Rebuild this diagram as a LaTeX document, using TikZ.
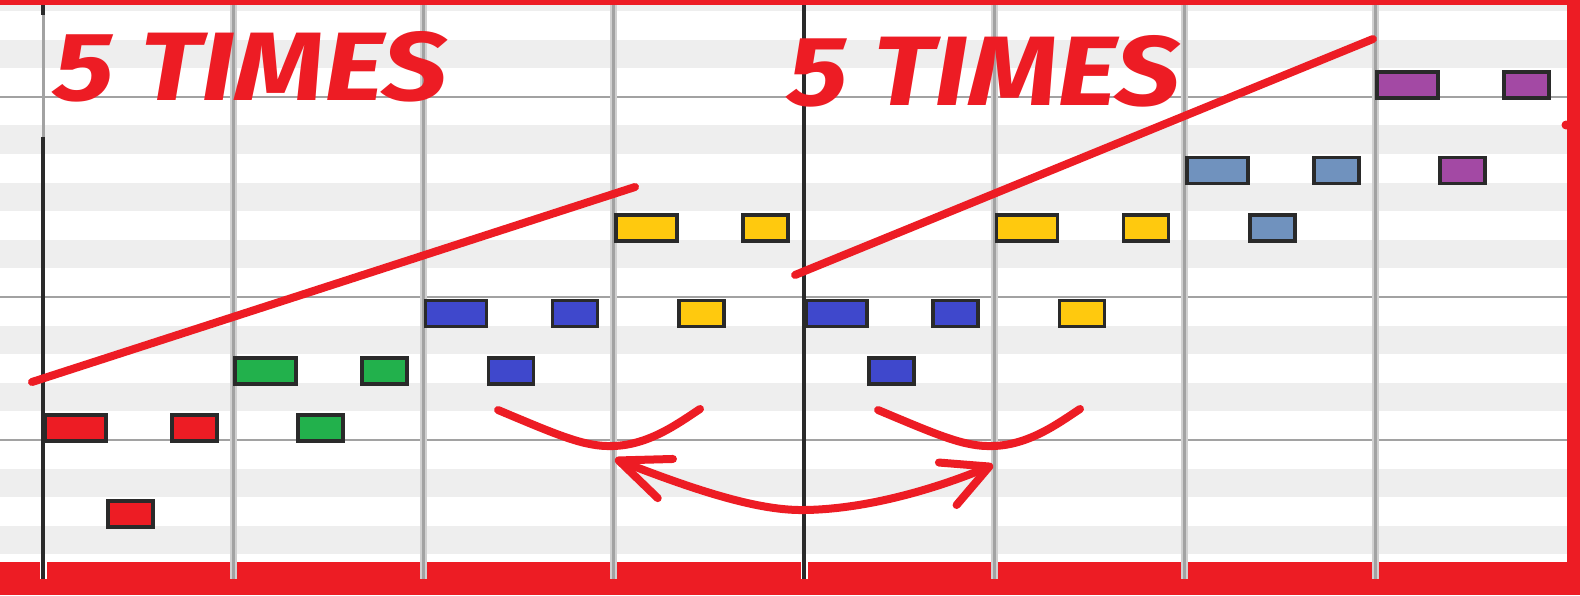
\documentclass[tikz,border=0pt]{standalone}
\usepackage{fontspec}
\newfontfamily\markfont{Fira Sans}
\usepackage{tikz}
\usetikzlibrary{arrows.meta,positioning}
\usepackage{xcolor}

\definecolor{paintred}{RGB}{237,28,36}
\definecolor{paintgreen}{RGB}{34,177,76}
\definecolor{paintblue}{RGB}{63,72,204}
\definecolor{paintyellow}{RGB}{255,201,14}
\definecolor{paintsteel}{RGB}{112,146,190}
\definecolor{paintpurple}{RGB}{163,73,164}
\definecolor{stripegrey}{RGB}{238,238,238}
\definecolor{gridgrey}{RGB}{162,162,162}
\definecolor{gridlight}{RGB}{208,208,208}
\definecolor{notedark}{RGB}{42,42,42}

\begin{document}
\begin{tikzpicture}[x=1pt,y=-1pt]
    \tikzstyle{note} = [rectangle, draw=notedark, line width=3.8pt, inner sep=0pt,
    minimum height=26pt, anchor=north west]
    \tikzstyle{barline} = [draw=gridgrey, line width=3pt]
    \tikzstyle{barglow} = [draw=gridlight, line width=7pt]
    \tikzstyle{darkbar} = [draw=notedark, line width=4pt]
    \tikzstyle{keyline} = [draw=gridgrey, line width=2.5pt]
    \tikzstyle{redpen} = [draw=paintred, line width=8pt, line cap=round]
    \tikzstyle{times} = [text=paintred, inner sep=0pt, anchor=north west]

    \useasboundingbox (0,0) rectangle (1580,595);
    \fill[white] (0,0) rectangle (1580,595);

    % Piano roll rows
    \foreach \n in {-3,-1,2,4,7,9,11,14,16}
      \fill[stripegrey] (0,440-\n*28.6) rectangle (1580,468.6-\n*28.6);
    \foreach \n in {0,5,12}
      \draw[keyline] (0,440-\n*28.6) -- (1580,440-\n*28.6);

    % Bottom band, bar lines run into it
    \fill[paintred] (0,562) rectangle (1580,595);
    \foreach \k in {0,...,7}
      \fill[white] (39.5+\k*190.3,562) rectangle (46.5+\k*190.3,579);
    \foreach \k in {1,2,3,5,6,7} {
      \draw[barglow] (43+\k*190.3,5) -- (43+\k*190.3,579);
      \draw[barline] (43+\k*190.3,5) -- (43+\k*190.3,579);
    }
    \draw[barline] (43,15) -- (43,137);
    \draw[darkbar] (43,5) -- (43,15) (43,137) -- (43,579);
    \draw[darkbar] (804.2,5) -- (804.2,579);

    % Notes: bar / colour / upper row / lower row
    \foreach \k/\col/\hi/\lo in {0/paintred/1/-2, 1/paintgreen/3/1, 2/paintblue/5/3,
      3/paintyellow/8/5, 4/paintblue/5/3, 5/paintyellow/8/5, 6/paintsteel/10/8,
      7/paintpurple/13/10} {
      \node[note, fill=\col, minimum width=61pt] (long\k) at (43+\k*190.3,441.5-\hi*28.6) {};
      \node[note, fill=\col, minimum width=45pt] (low\k) at (106+\k*190.3,441.5-\lo*28.6) {};
      \node[note, fill=\col, minimum width=45pt] (short\k) at (170+\k*190.3,441.5-\hi*28.6) {};
    }

    % Frame
    \fill[paintred] (0,0) rectangle (1580,5);
    \fill[paintred] (1567,0) rectangle (1580,595);
    \fill[paintred] (1566,125) circle[radius=4.5pt];

    % Marks
    \node[times] (times1) at (53,31) {\resizebox{394pt}{69pt}{\markfont\bfseries\itshape 5 TIMES}};
    \node[times] (times2) at (787,35) {\resizebox{393pt}{70pt}{\markfont\bfseries\itshape 5 TIMES}};

    \coordinate (rise1a) at (32,382);
    \coordinate (rise1b) at (635,187);
    \coordinate (rise2a) at (795,275);
    \coordinate (rise2b) at (1373,39);
    \draw[redpen] (rise1a) -- (rise1b);
    \draw[redpen] (rise2a) -- (rise2b);

    \foreach \s in {0,380}
      \draw[redpen, shift={(\s,0)}] (498,410) .. controls (560,436) and (585,447) .. (613,446)
        .. controls (650,445) and (680,422) .. (700,409);

    \coordinate (backL) at (615,459);
    \coordinate (backR) at (993,465);
    \draw[redpen, {Straight Barb[length=50pt,width=42pt,round]}-{Straight Barb[length=45pt,width=46pt,round]}]
      (backL) .. controls (700,492) and (760,511) .. (805,510)
      .. controls (870,509) and (940,487) .. (backR);

\end{tikzpicture}
\end{document}
